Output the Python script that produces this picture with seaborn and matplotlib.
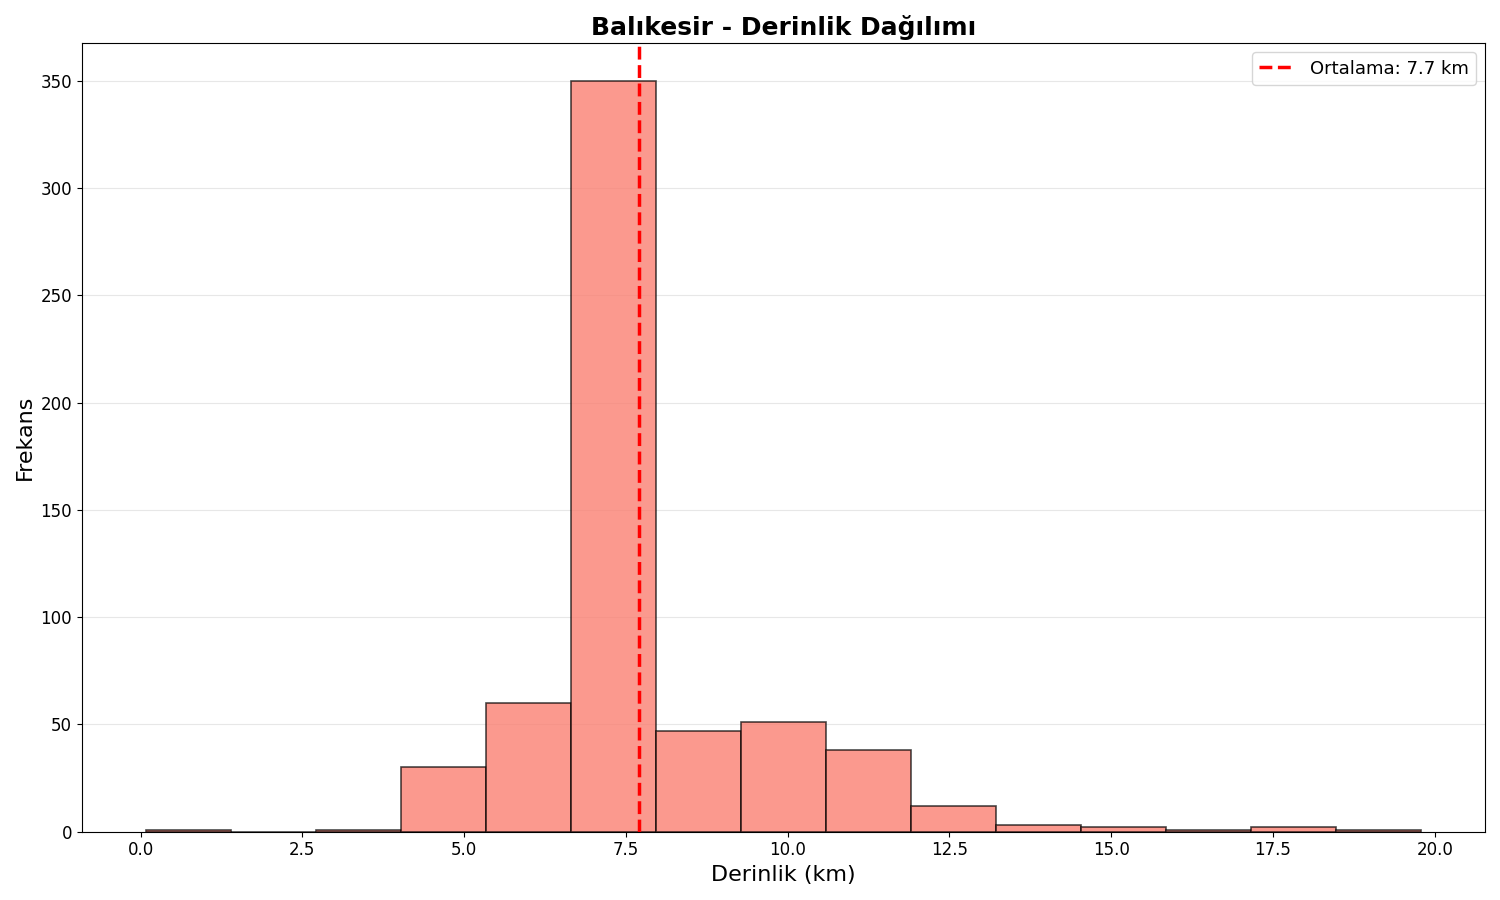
import matplotlib
matplotlib.use("Agg")
import matplotlib.pyplot as plt
import seaborn as sns
import numpy as np
import pandas as pd

bin_start = 0.08
bin_end = 19.79
counts = [1, 0, 1, 30, 60, 350, 47, 51, 38, 12, 3, 2, 1, 2, 1]
mean_depth = 7.7

edges = np.linspace(bin_start, bin_end, len(counts) + 1)
centers = (edges[:-1] + edges[1:]) / 2
df = pd.DataFrame({"depth": centers, "count": counts})

fig, ax = plt.subplots(figsize=(15, 9), dpi=100)
sns.histplot(data=df, x="depth", weights="count", bins=len(counts),
             binrange=(bin_start, bin_end), color="salmon",
             alpha=0.8, edgecolor="black", linewidth=1.2, ax=ax)
for p in ax.patches:
    p.set_edgecolor((0, 0, 0, 0.7))
ax.axvline(mean_depth, color="red", linestyle="--", linewidth=2.5,
           label=f"Ortalama: {mean_depth} km")
ax.set_title("Balıkesir - Derinlik Dağılımı", fontsize=18, fontweight="bold")
ax.set_xlabel("Derinlik (km)", fontsize=16)
ax.set_ylabel("Frekans", fontsize=16)
ax.tick_params(labelsize=12)
ax.grid(axis="y", alpha=0.3)
ax.set_axisbelow(True)
ax.legend(fontsize=13)
plt.tight_layout()
plt.savefig("out.png")
